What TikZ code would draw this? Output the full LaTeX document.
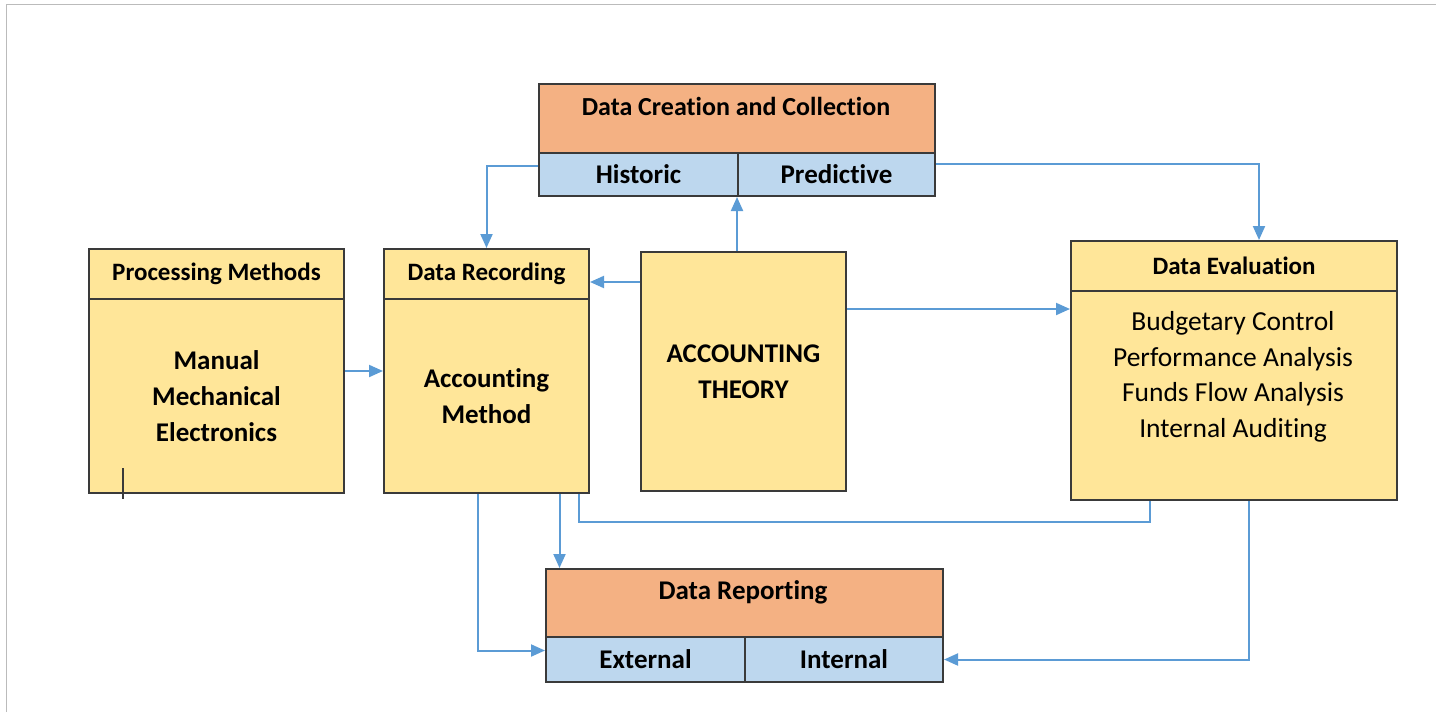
\documentclass[tikz,border=0pt]{standalone}
\usepackage{fontspec}
\setmainfont[Ligatures=NoCommon]{Carlito}
\usetikzlibrary{arrows.meta}
\definecolor{hdrorange}{HTML}{F4B183}
\definecolor{subblue}{HTML}{BDD7EE}
\definecolor{boxyellow}{HTML}{FFE699}
\definecolor{linkblue}{HTML}{5B9BD5}
\definecolor{edgegray}{HTML}{3A3A3A}
\definecolor{framegray}{HTML}{BBBBBB}
\begin{document}
\begin{tikzpicture}[x=1pt, y=-1pt,
	box/.style={draw=edgegray, line width=2pt, rectangle, inner sep=0pt, anchor=north west},
	ybox/.style={box, fill=boxyellow},
	obox/.style={box, fill=hdrorange},
	bbox/.style={box, fill=subblue},
	hdr/.style={font=\fontsize{25}{29}\selectfont\bfseries},
	subhdr/.style={font=\fontsize{27}{31}\selectfont\bfseries},
	body/.style={font=\fontsize{27}{36}\selectfont\bfseries, align=center},
	bodyreg/.style={font=\fontsize{27.5}{35.5}\selectfont, align=center},
	link/.style={draw=linkblue, line width=2pt, -{Triangle[length=14pt,width=12pt]}},
	plain/.style={draw=linkblue, line width=2pt}]
	\useasboundingbox (0,0) rectangle (1442,712);
	\draw[framegray, line width=1pt] (6,712) -- (6,4) -- (1436,4);
	% top block
	\node (dcc)  at (538, 83)	[obox, minimum width=396pt, minimum height=69pt]	{};
	\node (dcct) at (736,106)	[hdr, font=\fontsize{26}{30}\selectfont\bfseries]	{Data Creation and Collection};
	\node (hist) at (538,152)	[bbox, subhdr, minimum width=199pt, minimum height=43pt]	{Historic};
	\node (pred) at (737,152)	[bbox, subhdr, minimum width=197pt, minimum height=43pt]	{Predictive};
	% middle row
	\node (pmh) at (88,248)	[ybox, hdr, minimum width=255pt, minimum height=50pt]	{Processing Methods};
	\node (pmb) at (88,298)	[ybox, body, minimum width=255pt, minimum height=194pt]	{Manual\\Mechanical\\Electronics};
	\node (drh) at (383,248)	[ybox, hdr, minimum width=205pt, minimum height=50pt]	{Data Recording};
	\node (drb) at (383,298)	[ybox, body, minimum width=205pt, minimum height=194pt]	{Accounting\\Method};
	\node (at)  at (640,251)	[ybox, body, minimum width=205pt, minimum height=239pt]	{ACCOUNTING\\THEORY};
	\node (deh) at (1070,240)	[ybox, hdr, minimum width=326pt, minimum height=50pt]	{Data Evaluation};
	\node (deb) at (1070,290)	[ybox, minimum width=326pt, minimum height=209pt]	{};
	\node (det) at (1233,377)	[bodyreg]	{Budgetary Control\\Performance Analysis\\Funds Flow Analysis\\Internal Auditing};
	% bottom block
	\node (rep)  at (545,568)	[obox, minimum width=397pt, minimum height=68pt]	{};
	\node (rept) at (743,592)	[subhdr]	{Data Reporting};
	\node (ext)  at (545,636)	[bbox, subhdr, minimum width=199pt, minimum height=45pt]	{External};
	\node (int)  at (744,636)	[bbox, subhdr, minimum width=198pt, minimum height=45pt]	{Internal};
	\coordinate (drin)  at ([yshift=-8pt]drh.east);
	\coordinate (dein)  at ([yshift=-19pt]deb.north west);
	\coordinate (drout) at ([xshift=73pt]drb.south);
	\draw[link] ([yshift=9pt]hist.west) -| (drh.north);
	\draw[link] ([yshift=11pt]pred.east) -| ([xshift=25pt]deh.north);
	\draw[link] (at.north -| pred.south west) -- (pred.south west);
	\draw[link] (at.west |- drin) -- (drin);
	\draw[link] (at.east |- dein) -- (dein);
	\draw[link] ([yshift=25pt]pmb.east) -- ([yshift=25pt]drb.west);
	\draw[link] (drout) -- (drout |- rep.north);
	\draw[link] ([xshift=-8.5pt]drb.south) |- ([yshift=9pt]ext.west);
	\draw[plain] ([xshift=-84pt]deb.south) -- ++(0,21) -| ([xshift=92pt]drb.south);
	\draw[link] ([xshift=15pt]deb.south) |- (int.east);
	\draw[edgegray, line width=1.5pt] ([xshift=35pt,yshift=26pt]pmb.south west) -- ++(0,31);
\end{tikzpicture}
\end{document}
